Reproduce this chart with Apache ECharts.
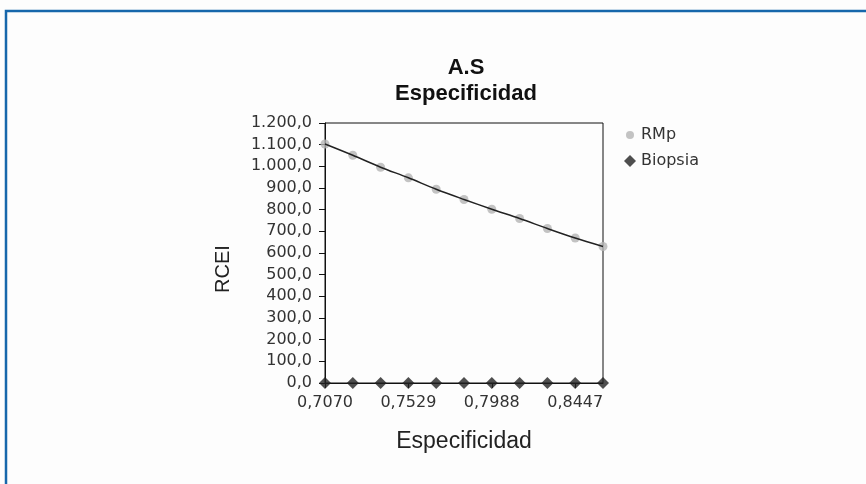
<!DOCTYPE html>
<html>
<head>
<meta charset="utf-8">
<script src="https://cdn.jsdelivr.net/npm/echarts@6/dist/echarts.min.js"></script>
<style>
  html, body { margin: 0; padding: 0; background: #fdfdfd; }
  #chart { width: 866px; height: 484px; }
</style>
</head>
<body>
<div id="chart"></div>
<script>
// Especificidad values (x axis categories)
const categories = ['0,7070','0,7223','0,7376','0,7529','0,7682','0,7835','0,7988','0,8141','0,8294','0,8447','0,8600'];
// RCEI values
const rmpValues = [1103, 1051, 996, 947, 894, 847, 802, 759, 713, 669, 630];
const biopsiaValues = [0, 0, 0, 0, 0, 0, 0, 0, 0, 0, 0];
// y axis range
const yMin = 0, yMax = 1200, yStep = 100;

function fmtY(v) {
  const thousands = Math.floor(v / 1000);
  const rest = v % 1000;
  const body = thousands > 0 ? thousands + '.' + String(rest).padStart(3, '0') : String(rest);
  return body + ',0';
}

const tickFont = { fontFamily: 'DejaVu Sans', fontSize: 16, color: '#333' };

const chart = echarts.init(document.getElementById('chart'), null, { renderer: 'canvas' });
chart.setOption({
  backgroundColor: '#fdfdfd',
  animation: false,
  title: {
    text: 'A.S\nEspecificidad',
    left: 461,
    top: 50,
    textAlign: 'center',
    textStyle: { fontFamily: 'Liberation Sans', fontWeight: 'bold', fontSize: 22, lineHeight: 26, color: '#111' }
  },
  legend: [
    {
      orient: 'vertical', left: 621, top: 122,
      itemWidth: 8, itemHeight: 8,
      data: [{ name: 'RMp', icon: 'circle' }],
      textStyle: { fontFamily: 'DejaVu Sans', fontSize: 16, color: '#333', padding: [0, 0, 0, 2] }
    },
    {
      orient: 'vertical', left: 619, top: 148,
      itemWidth: 12, itemHeight: 12,
      data: [{ name: 'Biopsia', icon: 'diamond' }],
      textStyle: { fontFamily: 'DejaVu Sans', fontSize: 16, color: '#333' }
    }
  ],
  grid: {
    left: 325, top: 123, right: 263, bottom: 101,
    show: true, borderColor: '#111', borderWidth: 1, backgroundColor: 'transparent'
  },
  xAxis: {
    type: 'category',
    data: categories,
    boundaryGap: false,
    name: 'Especificidad',
    nameLocation: 'middle',
    nameGap: 47,
    nameTextStyle: { fontFamily: 'Liberation Sans', fontSize: 23, color: '#222' },
    axisLine: { lineStyle: { color: '#111', width: 1 } },
    axisTick: { interval: 2, length: 5, lineStyle: { color: '#111' } },
    axisLabel: Object.assign({ interval: 2, margin: 12 }, tickFont),
    splitLine: { show: false }
  },
  yAxis: {
    type: 'value',
    min: yMin, max: yMax, interval: yStep,
    name: 'RCEI',
    nameLocation: 'middle',
    nameGap: 92,
    nameRotate: 90,
    nameTextStyle: { fontFamily: 'Liberation Sans', fontSize: 20, color: '#222', padding: [0, 32, 0, 0] },
    axisLine: { show: true, lineStyle: { color: '#111', width: 1 } },
    axisTick: { show: true, length: 6, lineStyle: { color: '#111' } },
    axisLabel: Object.assign({ margin: 13, formatter: fmtY }, tickFont),
    splitLine: { show: false }
  },
  series: [
    {
      name: 'RMp',
      type: 'scatter',
      data: rmpValues,
      symbol: 'circle',
      symbolSize: 9,
      itemStyle: { color: '#b4b4b4' },
      z: 3
    },
    {
      name: 'RMp-trend',
      type: 'line',
      data: rmpValues,
      showSymbol: false,
      smooth: 0.3,
      lineStyle: { color: '#222', width: 1.5 },
      z: 4,
      silent: true
    },
    {
      name: 'Biopsia',
      type: 'scatter',
      data: biopsiaValues,
      symbol: 'diamond',
      symbolSize: 12,
      itemStyle: { color: '#222' },
      z: 5
    }
  ],
  graphic: [
    {
      type: 'rect',
      shape: { x: 6, y: 11, width: 1000, height: 600 },
      style: { fill: 'none', stroke: '#1767ab', lineWidth: 2.5 },
      silent: true,
      z: 100
    }
  ]
});
</script>
</body>
</html>
